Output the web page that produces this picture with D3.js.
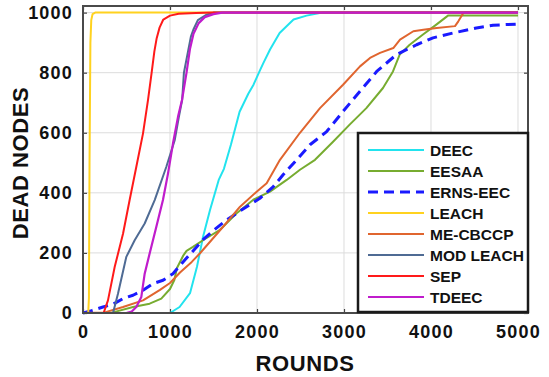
<!DOCTYPE html>
<html>
<head>
<meta charset="utf-8">
<script src="https://cdn.jsdelivr.net/npm/d3@7"></script>
<style>
  body { margin: 0; background: #fff; }
  svg { display: block; font-family: "Liberation Sans", Arial, sans-serif; font-weight: bold; }
</style>
</head>
<body>
<svg id="chart" width="549" height="377"></svg>
<script>
// values: [round, dead nodes]
var deec = [[0,0],[1000,0],[1110,20],[1230,66],[1310,154],[1380,254],[1460,343],[1560,443],[1620,480],[1700,560],[1800,670],[1900,730],[1960,760],[2030,805],[2070,830],[2150,877],[2260,932],[2420,977],[2570,990],[2750,1000],[5000,1000]];
var eesaa = [[0,0],[300,0],[345,2],[575,20],[766,31],[900,48],[1000,80],[1050,110],[1080,150],[1150,190],[1190,207],[1264,220],[1383,243],[1575,277],[1766,332],[1958,377],[2149,404],[2341,443],[2494,477],[2667,510],[2877,571],[3065,627],[3257,682],[3448,749],[3563,804],[3640,860],[3755,893],[3908,927],[4061,960],[4195,990],[5000,990]];
var ernsEec = [[0,0],[100,8],[230,20],[345,29],[460,48],[575,59],[690,76],[805,98],[920,109],[1034,131],[1150,170],[1260,205],[1383,245],[1500,275],[1651,310],[1881,354],[2034,382],[2188,421],[2300,460],[2456,510],[2609,560],[2801,604],[2989,671],[3184,738],[3376,804],[3602,860],[3835,893],[4023,916],[4253,932],[4521,949],[4713,958],[5000,962]];
var leach = [[0,0],[60,0],[68,50],[75,500],[85,900],[95,975],[110,995],[140,1000],[5000,1000]];
var meCbccp = [[0,0],[250,2],[460,20],[690,42],[885,77],[1000,100],[1115,135],[1250,170],[1345,199],[1613,288],[1805,354],[1996,404],[2111,432],[2264,510],[2494,600],[2724,682],[2989,760],[3184,821],[3299,849],[3414,866],[3567,882],[3644,910],[3797,938],[3912,943],[4065,949],[4276,955],[4314,971],[4372,999],[4390,1000],[5000,1000]];
var modLeach = [[0,0],[345,0],[402,64],[498,187],[594,242],[709,298],[824,376],[958,487],[1054,575],[1100,650],[1140,710],[1160,800],[1200,860],[1240,920],[1268,943],[1320,975],[1421,993],[1500,1000],[5000,1000]];
var sep = [[0,0],[237,0],[287,42],[364,153],[460,264],[536,376],[613,487],[690,598],[747,709],[789,800],[820,870],[847,915],[880,950],[923,977],[1000,990],[1100,996],[1300,999],[1500,1000],[5000,1000]];
var tdeec = [[0,0],[498,0],[560,5],[613,20],[670,53],[709,131],[766,198],[843,287],[919,376],[977,464],[1034,564],[1092,653],[1138,709],[1190,800],[1230,880],[1270,930],[1330,965],[1400,985],[1500,995],[1600,1000],[5000,1000]];

var seriesNames = ["DEEC", "EESAA", "ERNS-EEC", "LEACH", "ME-CBCCP", "MOD LEACH", "SEP", "TDEEC"];
var seriesData = [deec, eesaa, ernsEec, leach, meCbccp, modLeach, sep, tdeec];
var xTicks = [0, 1000, 2000, 3000, 4000, 5000];
var yTicks = [0, 200, 400, 600, 800, 1000];

var colors = ["#22e3ee", "#77ac30", "#1a1aff", "#ffd21f", "#e0652f", "#4f6b94", "#ff1a1a", "#c01ccc"];
var dashes = [null, null, "10,6", null, null, null, null, null];
var widths = [2, 2, 3, 2, 2, 2, 2, 2.2];

var box = {left: 83, right: 528, top: 6, bottom: 313};
var svg = d3.select("#chart");

var x = d3.scaleLinear().domain([0, 5115]).range([box.left, box.right]);
var y = d3.scaleLinear().domain([0, 1022]).range([box.bottom, box.top]);

// grid
var grid = svg.append("g");
grid.selectAll(".gx").data(xTicks).enter().append("line")
  .attr("x1", function(d) { return x(d); }).attr("x2", function(d) { return x(d); })
  .attr("y1", box.top).attr("y2", box.bottom)
  .attr("stroke", "#dcdcdc").attr("stroke-width", 1);
grid.selectAll(".gy").data(yTicks).enter().append("line")
  .attr("y1", function(d) { return y(d); }).attr("y2", function(d) { return y(d); })
  .attr("x1", box.left).attr("x2", box.right)
  .attr("stroke", "#dcdcdc").attr("stroke-width", 1);

// axes with inner ticks
var fmt = d3.format("d");
var xAxis = d3.axisBottom(x).tickValues(xTicks).tickFormat(fmt).tickSizeInner(-4).tickSizeOuter(0).tickPadding(12);
var yAxis = d3.axisLeft(y).tickValues(yTicks).tickFormat(fmt).tickSizeInner(-4).tickSizeOuter(0).tickPadding(10);
var gx = svg.append("g").attr("transform", "translate(0," + box.bottom + ")").call(xAxis);
var gy = svg.append("g").attr("transform", "translate(" + box.left + ",0)").call(yAxis);
svg.append("g").attr("transform", "translate(0," + box.top + ")")
  .call(d3.axisTop(x).tickValues(xTicks).tickSizeInner(-4).tickSizeOuter(0).tickFormat(""));
svg.append("g").attr("transform", "translate(" + box.right + ",0)")
  .call(d3.axisRight(y).tickValues(yTicks).tickSizeInner(-4).tickSizeOuter(0).tickFormat(""));
svg.selectAll(".domain").remove();
svg.selectAll(".tick line").attr("stroke", "#444").attr("stroke-width", 1.2);
[gx, gy].forEach(function(g) {
  g.selectAll("text").attr("font-size", 18).attr("font-weight", "bold")
    .attr("fill", "#111").attr("font-family", "'Liberation Sans', Arial, sans-serif")
    .attr("letter-spacing", 1.2);
});

// series
var line = d3.line().x(function(d) { return x(d[0]); }).y(function(d) { return y(d[1]); });
var plot = svg.append("g");
seriesData.forEach(function(data, i) {
  plot.append("path").datum(data)
    .attr("d", line)
    .attr("fill", "none")
    .attr("stroke", colors[i])
    .attr("stroke-width", widths[i])
    .attr("stroke-dasharray", dashes[i])
    .attr("stroke-linejoin", "round");
});

// frame
svg.append("rect")
  .attr("x", box.left).attr("y", box.top)
  .attr("width", box.right - box.left).attr("height", box.bottom - box.top)
  .attr("fill", "none").attr("stroke", "#4a4a4a").attr("stroke-width", 2);

// legend
var legend = svg.append("g");
legend.append("rect")
  .attr("x", 358).attr("y", 133).attr("width", 170).attr("height", 179)
  .attr("fill", "#fff").attr("stroke", "#1a1a1a").attr("stroke-width", 2.5);
seriesNames.forEach(function(name, i) {
  var ly = 150 + i * 21;
  legend.append("line")
    .attr("x1", 368).attr("x2", 424).attr("y1", ly).attr("y2", ly)
    .attr("stroke", colors[i]).attr("stroke-width", widths[i])
    .attr("stroke-dasharray", dashes[i]);
  legend.append("text")
    .attr("x", 430).attr("y", ly + 5.5)
    .attr("font-size", 15.5).attr("fill", "#111")
    .text(name);
});

// axis titles
svg.append("text")
  .attr("x", 305).attr("y", 371)
  .attr("text-anchor", "middle").attr("font-size", 22).attr("fill", "#111")
  .attr("letter-spacing", 0.6)
  .text("ROUNDS");
svg.append("text")
  .attr("transform", "translate(28,163) rotate(-90)")
  .attr("text-anchor", "middle").attr("font-size", 22).attr("fill", "#111")
  .attr("letter-spacing", 0.6)
  .text("DEAD NODES");
</script>
</body>
</html>
